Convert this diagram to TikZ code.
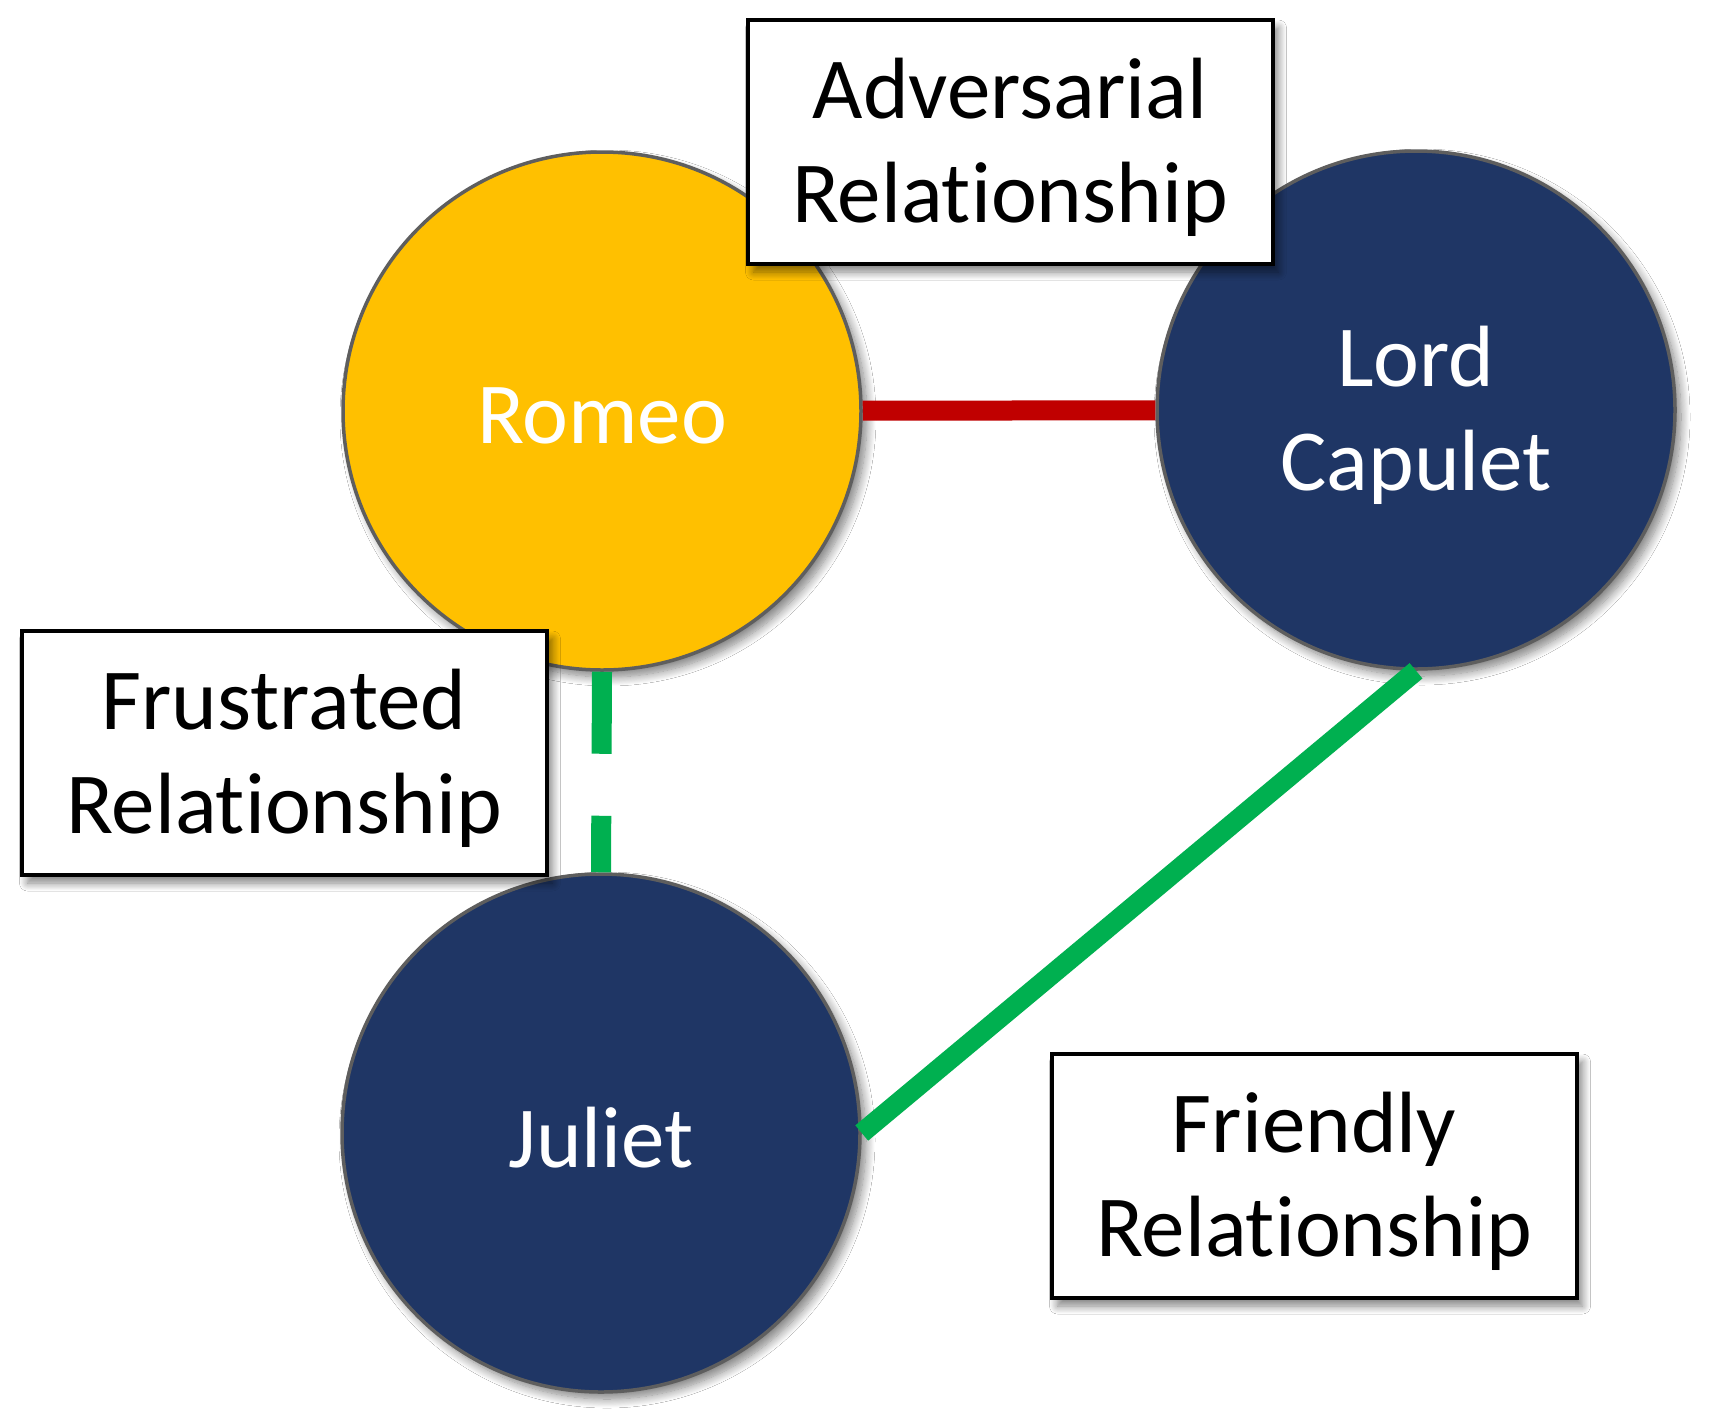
\documentclass[tikz,border=0pt]{standalone}
\usepackage{fontspec}
\setmainfont{Carlito}[Ligatures={NoCommon,NoContextual}]
\usetikzlibrary{shadows.blur}
\definecolor{gold}{HTML}{FFC000}
\definecolor{navy}{HTML}{1F3665}
\definecolor{redline}{HTML}{C00000}
\definecolor{greenline}{HTML}{00B050}
\definecolor{rimgray}{HTML}{5E5E5E}
\newcommand{\relword}{Relat\kern0pt ionship}
\tikzset{
  txt/.style={align=center, font=\fontsize{87}{104}\selectfont, inner sep=0pt, yshift=-5pt},
  person/.style={circle, minimum size=518pt, inner sep=0pt, draw=rimgray, line width=3.5pt,
    blur shadow={shadow xshift=6pt, shadow yshift=-7pt, shadow blur radius=9pt, shadow blur steps=12, shadow opacity=50}},
  labelbox/.style={rectangle, minimum width=525pt, minimum height=244pt, inner sep=0pt, draw=black, line width=4pt,
    fill=white,
    blur shadow={shadow xshift=6pt, shadow yshift=-8pt, shadow blur radius=8pt, shadow blur steps=12, shadow opacity=50}},
  rel/.style={line width=20pt},
}
\begin{document}
\begin{tikzpicture}[x=1pt,y=-1pt]
\useasboundingbox (0,0) rectangle (1711,1422);
\fill[white] (0,0) rectangle (1711,1422);
\node[person, fill=gold, label={[txt, text=white]center:Romeo}] (romeo) at (602,411) {};
\node[person, fill=navy, label={[txt, text=white]center:Lord\\Capulet}] (capulet) at (1416,410) {};
\node[person, fill=navy, label={[txt, text=white]center:Juliet}] (juliet) at (601,1133) {};
\draw[rel, redline] (romeo) -- (capulet);
\draw[rel, greenline, dash pattern=on 82pt off 62pt] (romeo.south) -- (juliet.north);
\draw[rel, greenline] (juliet.east) -- (capulet.south);
\node[labelbox, label={[txt, text=black]center:Adversarial\\\relword}] (adv) at (1010,142) {};
\node[labelbox, label={[txt, text=black]center:Frustrated\\\relword}] (fru) at (284,753) {};
\node[labelbox, label={[txt, text=black]center:Friendly\\\relword}] (fri) at (1314,1176) {};
\end{tikzpicture}
\end{document}
